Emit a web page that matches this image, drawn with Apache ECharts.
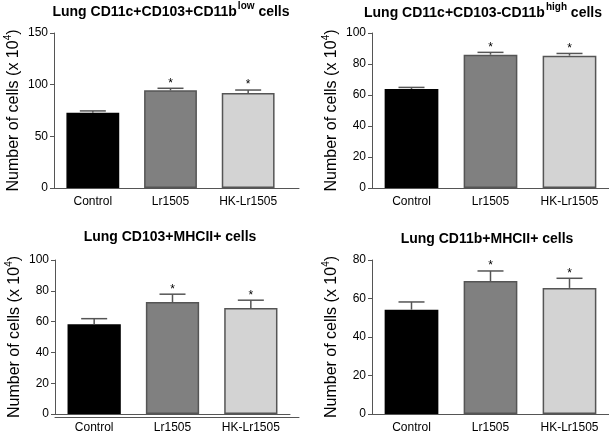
<!DOCTYPE html>
<html><head><meta charset="utf-8">
<script src="https://cdn.jsdelivr.net/npm/echarts@6/dist/echarts.min.js"></script>
<style>html,body{margin:0;padding:0;background:#fff}#c{width:609px;height:434px}</style>
</head><body><div id="c"></div>
<script>
const categories = ['Control', 'Lr1505', 'HK-Lr1505'];
const barColors = ['#000000', '#808080', '#d3d3d3'];

const p1Values = [72.9, 94.5, 91.9];
const p1Errors = [1.7, 2.0, 2.9];
const p1Sig = ['', '*', '*'];

const p2Values = [63.9, 86.0, 85.4];
const p2Errors = [1.0, 1.5, 1.4];
const p2Sig = ['', '*', '*'];

const p3Values = [58.3, 72.7, 68.9];
const p3Errors = [3.6, 5.1, 5.0];
const p3Sig = ['', '*', '*'];

const p4Values = [54.2, 69.1, 65.5];
const p4Errors = [4.0, 5.2, 5.0];
const p4Sig = ['', '*', '*'];

const yMax = [150, 100, 100, 80];
const yStep = [50, 20, 20, 20];

const panels = [
  {values: p1Values, errors: p1Errors, sig: p1Sig, title: '{b|Lung CD11c+CD103+CD11b}{s|low}{b| cells}', tx: 171, ty: 1},
  {values: p2Values, errors: p2Errors, sig: p2Sig, title: '{b|Lung CD11c+CD103-CD11b}{s|high}{b| cells}', tx: 483, ty: 2},
  {values: p3Values, errors: p3Errors, sig: p3Sig, title: '{b|Lung CD103+MHCII+ cells}', tx: 170, ty: 226},
  {values: p4Values, errors: p4Errors, sig: p4Sig, title: '{b|Lung CD11b+MHCII+ cells}', tx: 487, ty: 228}
];

const grids = [
  {left: 54, top: 33, width: 233, height: 155},
  {left: 372, top: 33, width: 237, height: 155},
  {left: 55, top: 260, width: 235, height: 157},
  {left: 372, top: 260, width: 237, height: 157},
  // extended baseline grids
  {left: 54, top: 33, width: 245, height: 155},
  {left: 55, top: 260, width: 244, height: 157}
];

const axisColor = '#555';
const font = 'Liberation Sans, Arial, sans-serif';

const xAxes = [], yAxes = [], series = [], titles = [];
panels.forEach((p, i) => {
  xAxes.push({
    type: 'category', gridIndex: i, data: categories,
    axisLine: {show: true, lineStyle: {color: axisColor, width: 1}},
    axisTick: {show: false},
    axisLabel: {color: '#000', fontSize: 12, fontFamily: font, margin: 8}
  });
  yAxes.push({
    type: 'value', gridIndex: i, min: 0, max: yMax[i], interval: yStep[i],
    splitLine: {show: false},
    axisLine: {show: true, lineStyle: {color: axisColor, width: 1}},
    axisTick: {show: true, length: 4, lineStyle: {color: axisColor}},
    axisLabel: {color: '#000', fontSize: 12, fontFamily: font, margin: 6},
    name: '{n|Number of cells (x 10}{s|4}{n|)}',
    nameLocation: 'middle', nameGap: 32,
    nameTextStyle: {
      rich: {
        n: {fontSize: 16, fontFamily: font, color: '#000', verticalAlign: 'bottom', lineHeight: 19},
        s: {fontSize: 10, fontFamily: font, color: '#000', verticalAlign: 'top', lineHeight: 19, padding: [0, 0, 6, 0]}
      }
    }
  });
  series.push({
    type: 'bar', xAxisIndex: i, yAxisIndex: i, barWidth: '68%',
    data: p.values.map((v, k) => ({value: v, itemStyle: {color: barColors[k], borderColor: k === 0 ? '#000' : '#555', borderWidth: 1.5}})),
    animation: false, z: 2
  });
  series.push({
    type: 'custom', xAxisIndex: i, yAxisIndex: i, animation: false, z: 3,
    data: p.values.map((v, k) => [k, v, v + p.errors[k]]),
    renderItem: function (params, api) {
      const k = api.value(0);
      const base = api.coord([k, api.value(1)]);
      const top = api.coord([k, api.value(2)]);
      const half = 13;
      const children = [
        {type: 'line', shape: {x1: base[0], y1: base[1], x2: top[0], y2: top[1]}, style: {stroke: '#555', lineWidth: 1.5}},
        {type: 'line', shape: {x1: top[0] - half, y1: top[1], x2: top[0] + half, y2: top[1]}, style: {stroke: '#555', lineWidth: 1.5}}
      ];
      const s = p.sig[params.dataIndex];
      if (s) {
        children.push({type: 'text', style: {text: s, x: top[0], y: top[1] - 5, align: 'center', verticalAlign: 'middle', fontSize: 12, fontFamily: font, fill: '#000'}});
      }
      return {type: 'group', children: children};
    }
  });
  titles.push({
    text: p.title, left: p.tx, top: p.ty, textAlign: 'center', padding: 0,
    textStyle: {
      rich: {
        b: {fontSize: 14, fontWeight: 'bold', fontFamily: font, color: '#000', verticalAlign: 'bottom', lineHeight: 18},
        s: {fontSize: 10, fontWeight: 'bold', fontFamily: font, color: '#000', verticalAlign: 'top', lineHeight: 18, padding: [0, 0, 6, 1]}
      }
    }
  });
});

// extended baselines for left panels
[4, 5].forEach(g => {
  xAxes.push({type: 'value', gridIndex: g, min: 0, max: 1, show: true,
    axisLine: {show: true, onZero: false, lineStyle: {color: axisColor, width: 1}},
    axisTick: {show: false}, axisLabel: {show: false}, splitLine: {show: false}});
  yAxes.push({type: 'value', gridIndex: g, min: 0, max: 1, show: false});
});

const chart = echarts.init(document.getElementById('c'), null, {renderer: 'canvas'});
chart.setOption({
  animation: false,
  backgroundColor: '#fff',
  title: titles,
  grid: grids,
  xAxis: xAxes,
  yAxis: yAxes,
  series: series
});
</script></body></html>
